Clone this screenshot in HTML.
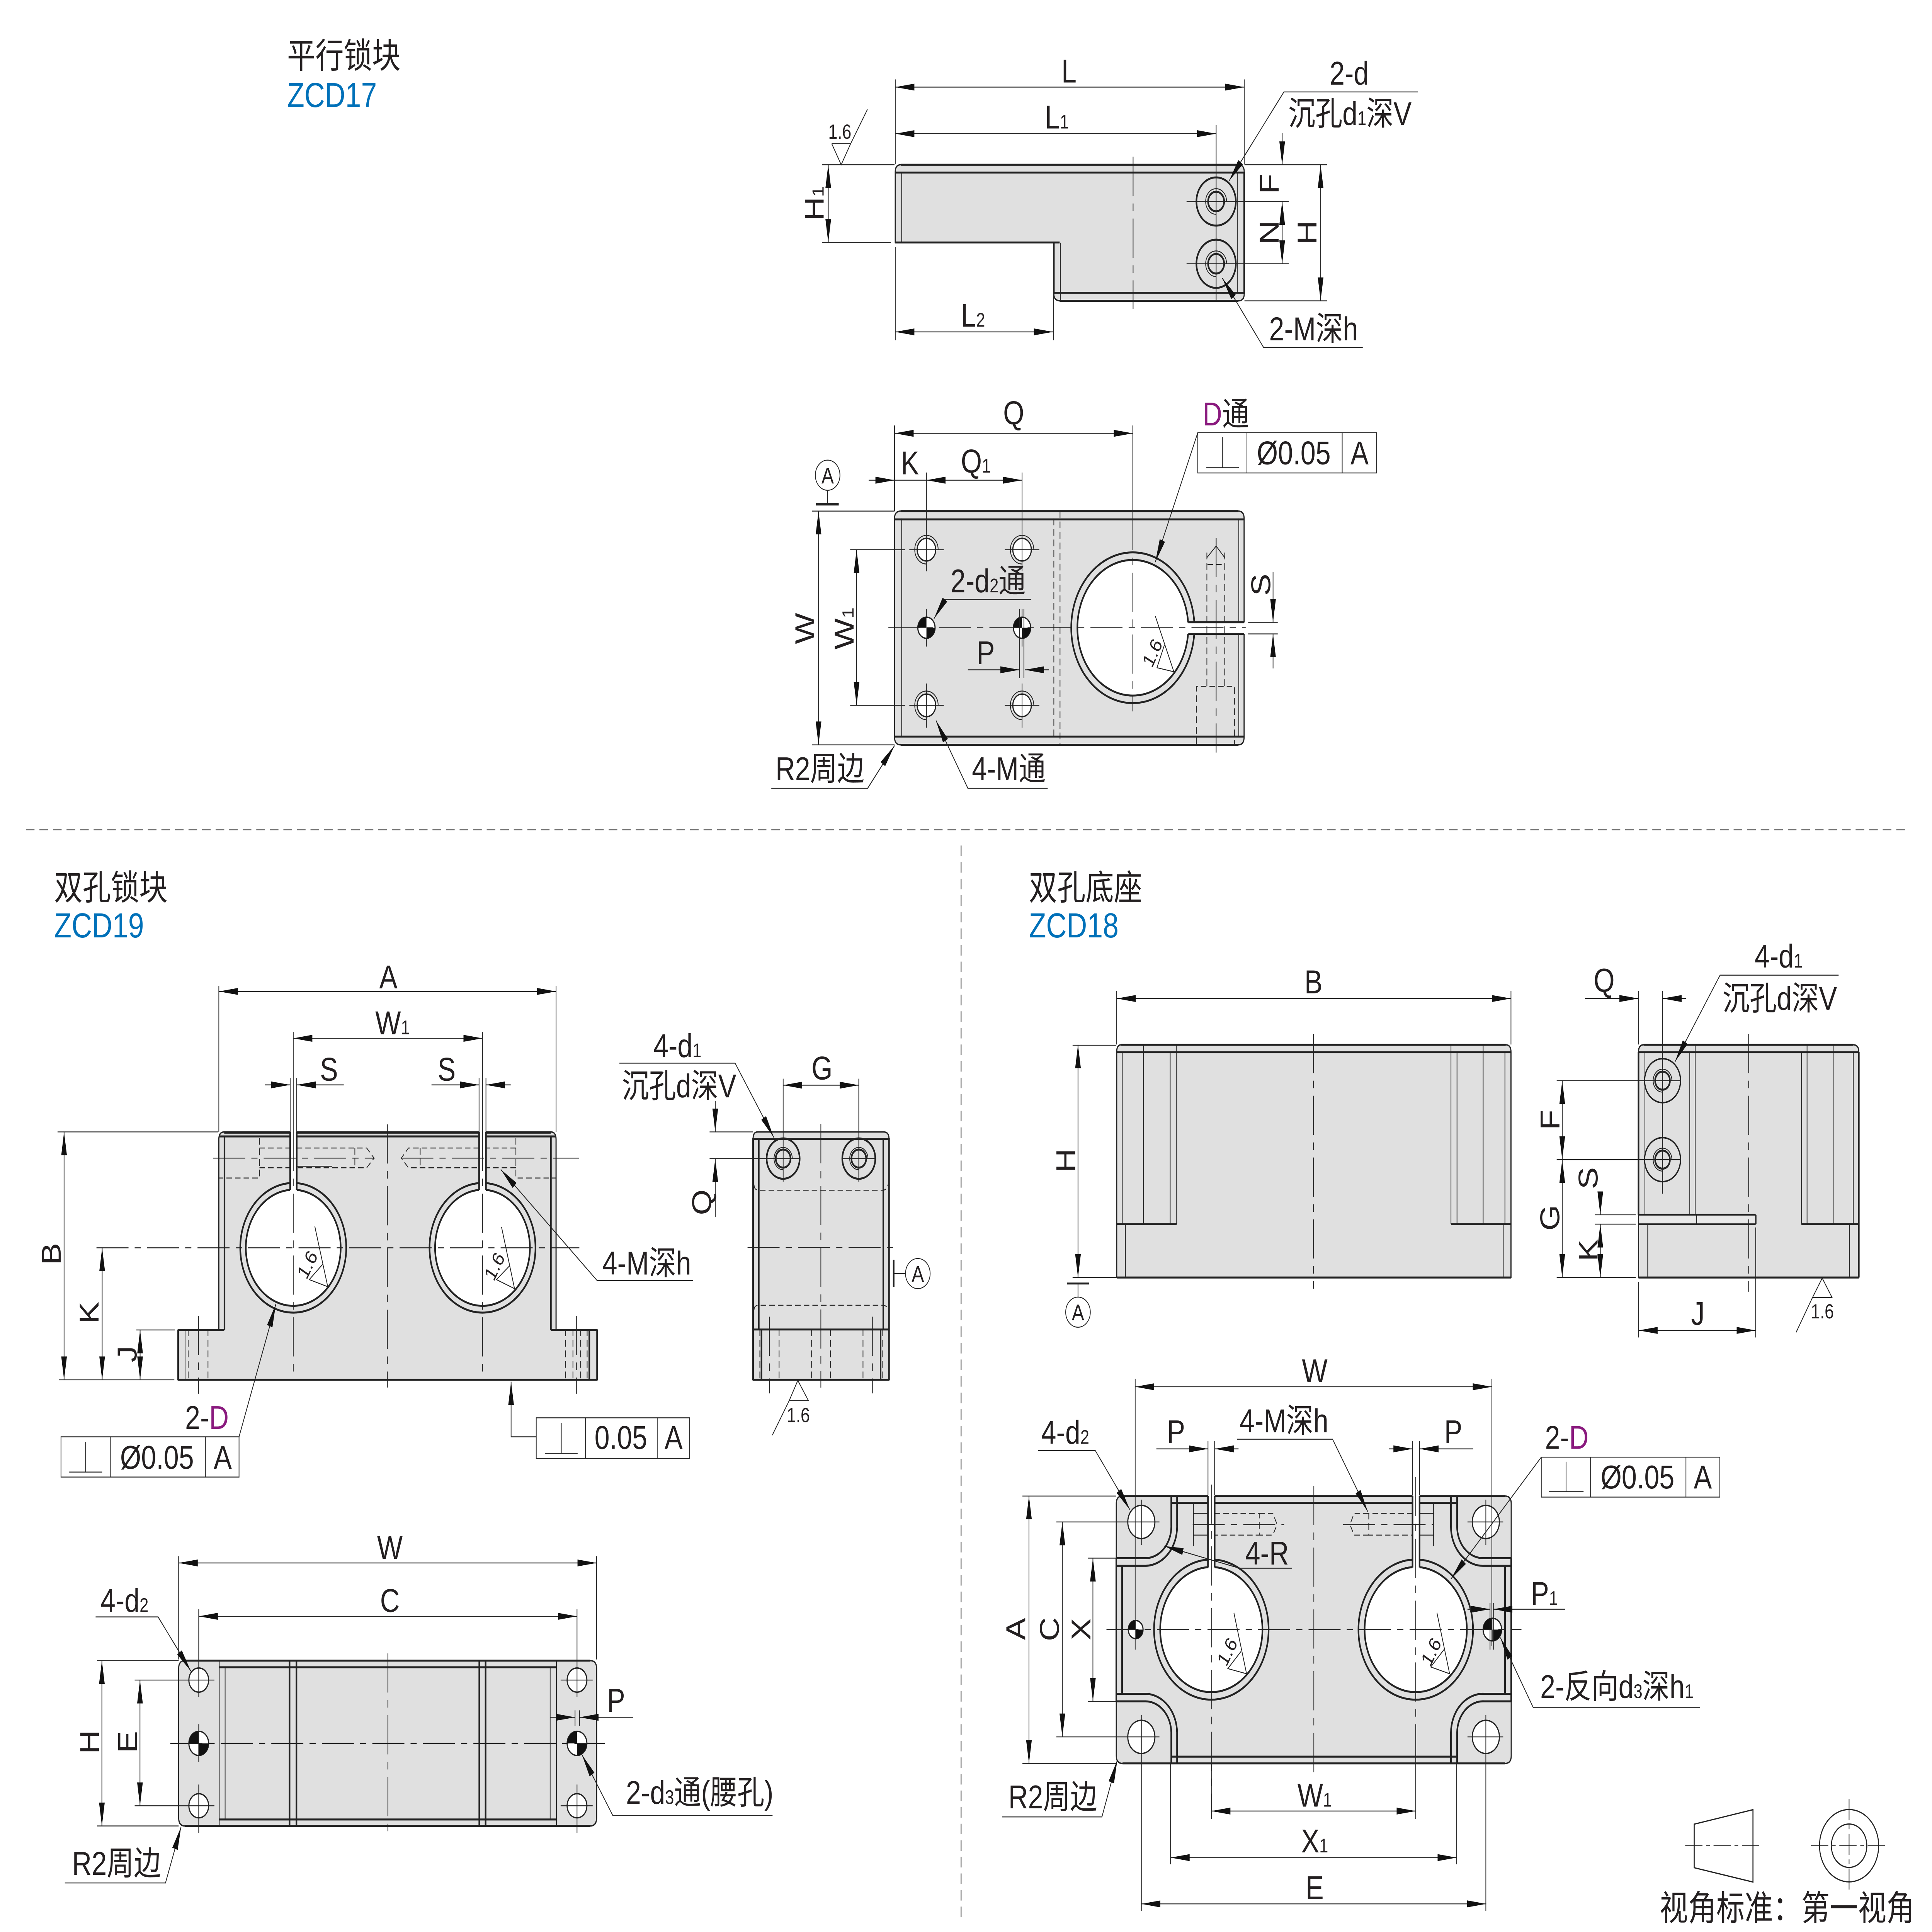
<!DOCTYPE html>
<html><head><meta charset="utf-8"><title>ZCD</title>
<style>
html,body{margin:0;padding:0;background:#fff;width:100%;height:100%;overflow:hidden}
svg{display:block;position:fixed;left:0;top:0;width:100vw;height:100vh;overflow:hidden;font-family:"Liberation Sans","Noto Sans CJK SC",sans-serif;font-size:22px;fill:#231f20}
.f{fill:#e0e0e0;stroke:#222;stroke-width:.9}
.t,.k,.d,.c,.a,.b,.s{fill:none;stroke:#222;stroke-width:.6}
.k{stroke-width:1.3}
.d{stroke-dasharray:4.5 2.5}
.c{stroke-dasharray:26 5 5 5}
.a{marker-end:url(#m)}
.b{marker-start:url(#m);marker-end:url(#m)}
.w{fill:#fff;stroke:#222;stroke-width:.9}
.wr{fill:#fff;stroke:#222;stroke-width:1.3}
.gr{fill:#e0e0e0;stroke:#222;stroke-width:1.3}
.bl{fill:#111;stroke:none}
.m{text-anchor:middle}
.z{fill:#0071b9;font-size:23px}
.h{font-size:23px}
.p{fill:#8a1a7e}
.u{font-size:13px}
.x{font-size:13.5px}
.q{font-size:15px}
</style></head><body>
<svg xmlns="http://www.w3.org/2000/svg" viewBox="0 0 1568 1281.85" preserveAspectRatio="none">
<defs><marker id="m" markerUnits="userSpaceOnUse" markerWidth="16" markerHeight="6" refX="15.5" refY="3" orient="auto-start-reverse" viewBox="0 0 16 6"><path d="M0 .7L15.5 3L0 5.3z" fill="#111"/></marker></defs>

<!-- titles -->
<text x="233" y="45" class="h">平行锁块</text><text x="233" y="71" class="z">ZCD17</text>
<text x="44" y="597" class="h">双孔锁块</text><text x="44" y="622" class="z">ZCD19</text>
<text x="835" y="597" class="h">双孔底座</text><text x="835" y="622" class="z">ZCD18</text>
<path d="M21,550.5H1548M780,561V1275" fill="none" stroke="#777" stroke-width=".8" stroke-dasharray="7 4"/>

<!-- VIEW 1 -->
<path class="f" d="M731,109.3H1005Q1009.8,109.3 1009.8,114V195Q1009.8,199.6 1005,199.6H860.6Q855.3,199.6 855.3,195V160.9H726.6V114Q726.6,109.3 731,109.3Z"/>
<path class="k" d="M731,109.3H1005M726.6,114.5H1009.8M726.6,160.9H860M855.3,194.2H1009.8M860,199.6H1005M1009.8,114V195M855.3,161V195"/>
<path class="t" d="M731.8,114V161M1004.5,114V194M860.6,161V199"/>
<path class="c" d="M919.6,104V205"/>
<circle class="k" cx="987" cy="133.7" r="16"/><circle class="k" cx="987" cy="133.7" r="6.5"/><path class="t" d="M995.5,133.7A8.5,8.5 0 1 0 987,142.2"/>
<circle class="k" cx="987" cy="175" r="16"/><circle class="k" cx="987" cy="175" r="6.5"/><path class="t" d="M995.5,175A8.5,8.5 0 1 0 987,183.5"/>
<path class="t" d="M987,83V199.6M963,133.7H1046M963,175H1046M726.6,52.7V109M1009.8,52.7V109M726.6,164V225.7M855,164V225.7M667,109.3H726M1010,109.3H1077M667,160.9H723M1010,199.6H1077M675,95.3H690.4L682.7,109.3L675,95.3M690.4,95.3L704,72.6"/>
<path class="b" d="M726.6,57.8H1009.8"/><path class="b" d="M726.6,88.7H987"/><path class="b" d="M726.6,220.2H854.6"/>
<path class="b" d="M672.2,109.3V160.9"/><path class="a" d="M1040.6,88.4V109.3"/><path class="b" d="M1040.6,133.7V175"/><path class="b" d="M1071.8,109.3V199.6"/>
<path class="a" d="M1150.8,61H1042L997.5,120"/><path class="a" d="M1106,230.5H1025.5L992,184.5"/>
<text x="867.6" y="54.8" class="m">L</text><text x="848" y="85.3">L<tspan class="u">1</tspan></text><text x="780" y="216.8">L<tspan class="u">2</tspan></text>
<text x="681.6" y="92" class="m x">1.6</text>
<text x="1095" y="56.2" class="m">2-d</text><text x="1045.5" y="83">沉孔d<tspan class="u">1</tspan>深V</text><text x="1030" y="225.7">2-M深h</text>
<text transform="translate(660.6,135) rotate(-90)" y="7.9" class="m">H<tspan class="u">1</tspan></text>
<text transform="translate(1029.8,122) rotate(-90)" y="7.9" class="m">F</text>
<text transform="translate(1029.8,154.3) rotate(-90)" y="7.9" class="m">N</text>
<text transform="translate(1060.6,154.3) rotate(-90)" y="7.9" class="m">H</text>

<!-- VIEW 2 -->
<path class="f" d="M731,339.1H1005Q1009.7,339.1 1009.7,344V412.9H964V420.6H1009.7V489Q1009.7,494.2 1005,494.2H731Q726,494.2 726,489V344Q726,339.1 731,339.1Z"/>
<path class="k" d="M731,339.1H1005M726,344.6H1009.7M726,488.7H1009.7M731,494.2H1005"/>
<path class="t" d="M731.8,344V489M1005.4,344V413M1005.4,421V489"/>
<path class="d" d="M855.3,344V489M860.3,339V494"/>
<circle class="gr" cx="919.4" cy="416.5" r="50"/><circle class="wr" cx="919.4" cy="416.5" r="45"/>
<rect x="962" y="413" width="50" height="7.6" fill="#fff"/>
<path class="k" d="M964.4,412.9H1009.7M964.4,420.6H1009.7"/>
<path class="d" d="M979.5,366.6V455.4M994,366.6V455.4M980,374.5H993M971,493.8V455.4H1002V493.8"/>
<path class="t" d="M979.5,370L987,362.3L994,370M987,357V362"/>
<path class="c" d="M987,357V499.3"/>
<circle class="w" cx="751.9" cy="364.7" r="7.5"/><path class="t" d="M761.4,364.7A9.5,9.5 0 1 0 751.9,374.2"/>
<circle class="w" cx="829.5" cy="364.7" r="7.5"/><path class="t" d="M839,364.7A9.5,9.5 0 1 0 829.5,374.2"/>
<circle class="w" cx="751.9" cy="468" r="7.5"/><path class="t" d="M761.4,468A9.5,9.5 0 1 0 751.9,477.5"/>
<circle class="w" cx="829.5" cy="468" r="7.5"/><path class="t" d="M839,468A9.5,9.5 0 1 0 829.5,477.5"/>
<path class="t" d="M738,364.7H766M815.5,364.7H843.5M738,468H766M815.5,468H843.5M751.9,313.5V379M829.5,313.5V379M751.9,453.5V482.8M829.5,453.5V482.8M751.9,404V429M829.5,404V429"/>
<circle class="w" cx="751.9" cy="416.5" r="7"/><path class="bl" d="M751.9,416.5V409.5A7,7 0 0 0 744.9,416.5ZM751.9,416.5V423.5A7,7 0 0 0 758.9,416.5Z"/>
<circle class="w" cx="829.5" cy="416.5" r="7"/><path class="bl" d="M829.5,416.5V409.5A7,7 0 0 0 822.5,416.5ZM829.5,416.5V423.5A7,7 0 0 0 836.5,416.5Z"/>
<path class="c" d="M721,416.5H1011"/>
<path class="t" d="M726,282.3V339M919.4,282.3V339M659,339.1H726M659,494.2H726M690,364.7H734.5M690,468H734.5M1013,412.9H1037M1013,420.6H1037M827.4,404V449.9M831,404V449.9"/>
<path class="c" d="M919.4,339V472"/>
<path class="b" d="M726,287.5H919.4"/>
<path class="a" d="M705,318.6H726"/><path class="t" d="M726,318.6H751.9"/><path class="b" d="M751.9,318.6H829.5"/>
<path class="b" d="M664.3,339.1V494.2"/><path class="b" d="M695.2,364.7V468"/>
<path class="a" d="M785.5,444.4H827.4"/><path class="a" d="M851.3,444.4H831.8"/>
<path class="a" d="M1033.2,379.4V412.9"/><path class="a" d="M1033.2,443.5V420.6"/>
<circle class="s" cx="671.7" cy="315.3" r="10"/><path class="t" d="M671.7,325.3V334.5"/><path class="k" d="M662.3,334.5H680.7" style="stroke-width:1.8"/>
<text x="671.7" y="320.8" class="m q">A</text>
<rect class="s" x="972.1" y="287.1" width="145.1" height="26.7"/><path class="t" d="M1012,287.1V313.8M1089.3,287.1V313.8M979,310.3H1005.4M992.3,290V310.3"/>
<text x="1050" y="308" class="m">Ø0.05</text><text x="1103.4" y="308" class="m">A</text>
<text x="976" y="282.3"><tspan class="p">D</tspan>通</text>
<path class="a" d="M972.1,287.1L937.6,373"/>
<path class="a" d="M836.8,397.7H767L758,410.5"/>
<path class="a" d="M626,523H704.2L726,494.7"/><path class="a" d="M850.3,523H785.5L759.6,478"/>
<path class="t" d="M937.6,408.7L952.7,445.7L939,443L945,428"/>
<text transform="translate(935,433) rotate(-62)" y="5" class="m x">1.6</text>
<text x="822.7" y="281.5" class="m">Q</text><text x="738.5" y="314.7" class="m">K</text><text x="779.8" y="313.5">Q<tspan class="u">1</tspan></text>
<text x="771.4" y="393">2-d<tspan class="u">2</tspan>通</text><text x="800" y="440.7" class="m">P</text>
<text x="629.4" y="517.6">R2周边</text><text x="788.8" y="517.6">4-M通</text>
<text transform="translate(652.9,417) rotate(-90)" y="7.9" class="m">W</text>
<text transform="translate(684.8,417) rotate(-90)" y="7.9" class="m">W<tspan class="u">1</tspan></text>
<text transform="translate(1023,388) rotate(-90)" y="7.9" class="m">S</text>

<!-- VIEW 3 -->
<path class="f" d="M182,751H447Q451.3,751 451.3,756V882.4H484.6V915.5H144.6V882.4H177.6V756Q177.6,751 182,751Z"/>
<path class="k" d="M182,751.5H447M177.6,754H451.3M144.6,915.5H484.6M144.6,882.4H182M447,882.4H484.6M182.2,754V882.4M447.1,754V882.4M484.6,882.4V915.5M144.6,882.4V915.5M478.3,882.4V915.5"/>
<path class="t" d="M177.6,756V882M451.3,756V882M150.2,882.4V915.5"/>
<circle class="gr" cx="238" cy="827.9" r="43"/><circle class="wr" cx="238" cy="827.9" r="38.5"/>
<circle class="gr" cx="391.6" cy="827.9" r="43"/><circle class="wr" cx="391.6" cy="827.9" r="38.5"/>
<rect x="235.5" y="749" width="5.3" height="42" fill="#fff"/><rect x="388.8" y="749" width="5.6" height="42" fill="#fff"/>
<path class="k" d="M235.5,751V789.6M240.8,751V789.6M388.8,751V789.6M394.4,751V789.6"/>
<path class="d" d="M210.6,755V781.6H178M240.8,761.7H297.6L303.6,768.4L297.6,774.8H240.8M210.6,761.7H235M210.6,774.8H235M288,761.7V774.8M418.7,755V781.6H451M388.8,761.7H331.5L325.7,768.4L331.5,774.8H388.8M418.7,761.7H394M418.7,774.8H394M341,761.7V774.8M152.7,882V915M168.8,882V915M459,882V915M465,882V915M471,882V915M476.5,882V915"/>
<path class="t" d="M240.8,773.8H269.5"/>
<path class="c" d="M173,768.4H304M325.7,768.4H470"/>
<path class="c" d="M314.4,746V920.6"/>
<path class="c" d="M78.3,827.9H470.2"/>
<path class="c" d="M238,751V915.5M391.6,751V915.5"/>
<path class="c" d="M161.1,873V924.7M467.8,873V924.7"/>
<path class="t" d="M177.6,654V751M451.3,654V751M238,684.8V751M391.6,684.8V751M235.5,715.3V751M240.8,715.3V751M388.8,715.3V751M394.4,715.3V751M46.7,751H177M47.8,915.5H141.5M110.6,882.4H142"/>
<path class="b" d="M177.6,657.8H451.3"/><path class="b" d="M238,688.9H391.6"/>
<path class="a" d="M215.1,719.8H235.5"/><path class="a" d="M279,719.8H240.8"/><path class="a" d="M350.2,719.8H388.8"/><path class="a" d="M414.5,719.8H394.4"/>
<path class="b" d="M52,751V915.5"/><path class="b" d="M82.9,827.9V915.5"/><path class="b" d="M113.7,882.4V915.5"/>
<path class="t" d="M255.5,813.7L266,853.7L251,849L261.8,838.9M407,814L417.6,855L402.9,849L413.4,840"/>
<text transform="translate(249.2,838.9) rotate(-60)" y="5" class="m x">1.6</text>
<text transform="translate(401.1,840) rotate(-60)" y="5" class="m x">1.6</text>
<path class="a" d="M562.5,849.6H484.6L406.4,775.9"/>
<rect class="s" x="49.5" y="953.3" width="144.5" height="26.7"/><path class="t" d="M89.5,953.3V980M166.7,953.3V980M56.2,976.7H82.9M69.5,956.8V976.7"/>
<text x="127.4" y="974.4" class="m">Ø0.05</text><text x="180.8" y="974.4" class="m">A</text>
<path class="a" d="M194,953.3L223.9,865.2"/>
<text x="150.2" y="948">2-<tspan class="p">D</tspan></text>
<rect class="s" x="435.2" y="940.7" width="124.5" height="27"/><path class="t" d="M475.2,940.7V967.7M533.4,940.7V967.7M442.2,964.3H468.8M455.5,944V964.3"/>
<text x="503.9" y="961.3" class="m">0.05</text><text x="546.7" y="961.3" class="m">A</text>
<path class="a" d="M435.2,953.3H414.8V916.7"/>
<text x="315.2" y="655.7" class="m">A</text><text x="304.6" y="686.2">W<tspan class="u">1</tspan></text>
<text x="267" y="716.9" class="m">S</text><text x="362.5" y="716.9" class="m">S</text><text x="488.8" y="845.7">4-M深h</text>
<text transform="translate(41.4,832) rotate(-90)" y="7.9" class="m">B</text>
<text transform="translate(72,871) rotate(-90)" y="7.9" class="m">K</text>
<text transform="translate(102.9,898.4) rotate(-90)" y="7.9" class="m">J</text>

<!-- VIEW 4 -->
<path class="f" d="M615,751H717Q721.5,751 721.5,755.5V915.5H611.2V755.5Q611.2,751 615,751Z"/>
<path class="k" d="M611.2,755.7H721.5M611.2,882.1H721.5M611.2,915.5H721.5M611.2,755V915.5M721.5,755V915.5M615.8,755.7V882M716.9,755.7V882M618,882V915.5M714.7,882V915.5"/>
<path class="d" d="M612,786Q612,789.7 616,789.7H716Q720.2,789.7 720.2,786M612,869Q612,866 616,866H716Q720.2,866 720.2,869M616.7,882V915M716,882V915M632.3,882V915M658.5,882V915M674,882V915M700.4,882V915"/>
<circle class="k" cx="635.6" cy="768.7" r="13.4"/><circle class="k" cx="635.6" cy="768.7" r="6"/><path class="t" d="M643,768.7A7.4,7.4 0 1 0 635.6,776.1"/>
<circle class="k" cx="697" cy="768.7" r="13.4"/><circle class="k" cx="697" cy="768.7" r="6"/><path class="t" d="M704.4,768.7A7.4,7.4 0 1 0 697,776.1"/>
<path class="c" d="M666.2,745.8V920.7"/><path class="c" d="M606.7,827.8H725.7"/>
<path class="c" d="M624.4,873.6V924.5M708,873.6V924.5"/>
<path class="t" d="M635.6,715.7V784M697,715.7V784M575.9,751H611M575.9,768.7H649M684,768.7H711"/>
<path class="b" d="M635.6,720H697"/><path class="a" d="M580.5,730.5V751"/><path class="a" d="M580.5,807.6V768.7"/>
<path class="a" d="M502.7,705.4H596.6L628.1,754.8"/>
<path class="t" d="M725.3,845H734.8"/><path class="k" d="M725.3,835.8V853.9"/><circle class="s" cx="744.9" cy="845" r="10"/><text x="744.9" y="850.5" class="m q">A</text>
<path class="t" d="M647.5,915.9L656.1,929.3H640.5L647.5,915.9M640.5,929.3L626.8,952.2"/>
<text x="647.9" y="943.6" class="m x">1.6</text>
<text x="530.3" y="701.4">4-d<tspan class="u">1</tspan></text><text x="504.7" y="728.1">沉孔d深V</text>
<text x="667.1" y="716.2" class="m">G</text>
<text transform="translate(569.1,797.7) rotate(-90)" y="7.9" class="m">Q</text>

<!-- VIEW 5 -->
<path class="f" d="M150,1101.8H479Q484.2,1101.8 484.2,1107V1206Q484.2,1211.5 479,1211.5H150Q145,1211.5 145,1206V1107Q145,1101.8 150,1101.8Z"/>
<path class="k" d="M150,1101.8H479M150,1211.5H479M178,1106.2H451.6M178,1207.2H451.6M235,1102V1211M240.6,1102V1211M389,1102V1211M394.1,1102V1211"/>
<path class="t" d="M177.9,1102V1211M182.7,1106V1207M446.5,1106V1207M451.6,1102V1211"/>
<circle class="w" cx="161.3" cy="1114.7" r="8"/><circle class="w" cx="468.3" cy="1114.7" r="8"/><circle class="w" cx="161.3" cy="1198.1" r="8"/><circle class="w" cx="468.3" cy="1198.1" r="8"/>
<circle class="w" cx="161.3" cy="1156.7" r="8"/><path class="bl" d="M161.3,1156.7V1148.7A8,8 0 0 0 153.3,1156.7ZM161.3,1156.7V1164.7A8,8 0 0 0 169.3,1156.7Z"/>
<circle class="w" cx="468.3" cy="1156.7" r="8"/><path class="bl" d="M468.3,1156.7V1148.7A8,8 0 0 0 460.3,1156.7ZM468.3,1156.7V1164.7A8,8 0 0 0 476.3,1156.7Z"/>
<path class="t" d="M150,1114.7H174M455,1114.7H481M150,1198.1H174M455,1198.1H481M161.3,1067.7V1126M468.3,1067.7V1126M161.3,1184V1216M468.3,1184V1216M161.3,1144V1169M466.7,1134.8V1145M470.3,1134.8V1145M145,1032.5V1101M484.2,1032.5V1101M78.7,1101.8H145M78.7,1211.5H145M109.3,1114.7H150M109.3,1198.1H150"/>
<path class="c" d="M314.8,1097V1215.9"/><path class="c" d="M138.2,1156.7H490.9"/>
<path class="b" d="M145,1037H484.2"/><path class="b" d="M161.3,1072.4H468.3"/><path class="b" d="M82.7,1101.8V1211.5"/><path class="b" d="M113.6,1114.7V1198.1"/>
<path class="a" d="M446.5,1139.4H466.7"/><path class="a" d="M513.9,1139.4H470.3"/>
<path class="a" d="M77.6,1072.8H128.3L154.9,1108.8"/><path class="a" d="M52.6,1249.3H134.3L147,1212"/><path class="a" d="M627,1204.5H497.3L472.3,1164.2"/>
<text x="316.4" y="1034.2" class="m">W</text><text x="316.4" y="1069.4" class="m">C</text><text x="500" y="1135.7" class="m">P</text>
<text x="81.5" y="1069.4">4-d<tspan class="u">2</tspan></text><text x="58.5" y="1243.9">R2周边</text><text x="508" y="1196.9">2-d<tspan class="u">3</tspan>通(腰孔)</text>
<text transform="translate(72.4,1155.8) rotate(-90)" y="7.9" class="m">H</text>
<text transform="translate(103.3,1155.8) rotate(-90)" y="7.9" class="m">E</text>

<!-- VIEW 6 left -->
<path class="f" d="M910,693.2H1222Q1226.3,693.2 1226.3,698V847.6H906.3V698Q906.3,693.2 910,693.2Z"/>
<path class="k" d="M910,693.2H1222M906.3,698.1H1226.3M906.3,847.6H1226.3M906.3,812.2H955M1177.6,812.2H1226.3"/>
<path class="t" d="M910.8,698V812M928,693V812M949.7,698V812M955,693V812M1177.6,693V812M1182.5,698V812M1203.7,693V812M1221.4,698V812M913.4,812V847M1220,812V847"/>
<path class="c" d="M1066,686V855"/>
<path class="t" d="M906.3,657.5V693M1226.3,657.5V693M870.5,693.5H906M870.5,847.6H906"/>
<path class="b" d="M906.3,662.5H1226.3"/><path class="b" d="M874.9,693.2V847.6"/>
<path class="k" d="M866,851.6H883.8"/><path class="t" d="M874.9,851.6V860.5"/><circle class="s" cx="874.9" cy="870.6" r="10"/><text x="874.9" y="876" class="m q">A</text>
<text x="1066" y="659" class="m">B</text>
<text transform="translate(864.7,770) rotate(-90)" y="7.9" class="m">H</text>

<!-- VIEW 6 right -->
<path class="f" d="M1334,693.2H1504Q1508.6,693.2 1508.6,698V847.6H1329.8V698Q1329.8,693.2 1334,693.2Z"/>
<path class="k" d="M1334,693.2H1504M1329.8,698.1H1508.6M1329.8,847.6H1508.6M1329.8,806H1424.9M1329.8,812.2H1424.9M1424.9,806V812.2M1462,812.2H1508.6M1508.6,698V847.6M1329.8,698V806"/>
<path class="t" d="M1335,698V806M1371.4,698V806M1375.8,693V806M1462.1,698V812M1466.6,693V812M1487.8,693V812M1504.1,698V812M1377,806V812M1337.3,812V847M1501,812V847M1329.8,812V847"/>
<rect x="1330" y="806.5" width="94.5" height="5.2" fill="#e9e9e9"/>
<path class="t" d="M1377,806V812"/>
<circle class="t" cx="1349.3" cy="717" r="14.6" style="stroke-width:1"/><circle class="k" cx="1349.3" cy="717" r="6"/><path class="t" d="M1356.9,717A7.6,7.6 0 1 0 1349.3,724.6"/>
<circle class="t" cx="1349.3" cy="769.4" r="14.6" style="stroke-width:1"/><circle class="k" cx="1349.3" cy="769.4" r="6"/><path class="t" d="M1356.9,769.4A7.6,7.6 0 1 0 1349.3,777"/>
<path class="k" d="M1349.3,693V702M1349.3,732V754M1349.3,784V792" style="stroke-width:.9"/>
<path class="c" d="M1419.2,686V857"/>
<path class="t" d="M1329.8,657.5V693M1349.3,657.5V732M1263.4,717H1364M1263.4,769.4H1364M1263.4,847.6H1327.6M1294.4,806H1327.6M1294.4,812.2H1327.6M1329.8,850.5V887.4M1424.9,814.4V887.4M1349.3,754V784"/>
<path class="a" d="M1286.4,662.5H1329.8"/><path class="a" d="M1368.3,662.5H1349.3"/>
<path class="a" d="M1492.2,647H1396L1359.4,704.5"/>
<path class="b" d="M1267.9,717V769.4"/><path class="b" d="M1267.9,769.4V847.6"/>
<path class="a" d="M1298.8,790.9V806"/><path class="b" d="M1298.8,812.2V847.6"/>
<path class="b" d="M1329.8,882.7H1424.9"/>
<path class="t" d="M1478.9,848L1486.9,860.9H1471L1478.9,848M1471,860.9L1457.7,884"/>
<text x="1479" y="874.8" class="m x">1.6</text>
<text x="1301.9" y="658" class="m">Q</text><text x="1424" y="642">4-d<tspan class="u">1</tspan></text><text x="1398" y="670">沉孔d深V</text><text x="1378" y="879" class="m">J</text>
<text transform="translate(1257.7,743) rotate(-90)" y="7.9" class="m">F</text>
<text transform="translate(1257.7,808) rotate(-90)" y="7.9" class="m">G</text>
<text transform="translate(1288.7,781.7) rotate(-90)" y="7.9" class="m">S</text>
<text transform="translate(1288.7,829.5) rotate(-90)" y="7.9" class="m">K</text>

<!-- VIEW 7 -->
<path class="f" d="M911,992.6H1221.5Q1226.5,992.6 1226.5,997.6V1165Q1226.5,1170 1221.5,1170H911Q906,1170 906,1165V997.6Q906,992.6 911,992.6Z"/>
<path class="k" d="M911,992.6H1221.5M911,1170H1221.5M950.6,997.2H1182.6M950.6,1165.5H1182.6"/>
<path class="k" d="M950.6,992.6V1012A21,21 0 0 1 929.7,1033.8H906M955.3,992.6V1012A26,26 0 0 1 929.7,1038.9H906"/>
<path class="k" d="M950.6,1170V1149.4A21,21 0 0 0 929.7,1128.8H906M955.3,1170V1149.4A26,26 0 0 0 929.7,1123.8H906"/>
<path class="k" d="M1182.6,992.6V1012A21,21 0 0 0 1204.3,1033.8H1226.5M1177.6,992.6V1012A26,26 0 0 0 1204.3,1038.9H1226.5"/>
<path class="k" d="M1182.6,1170V1149.4A21,21 0 0 1 1204.3,1128.8H1226.5M1177.6,1170V1149.4A26,26 0 0 1 1204.3,1123.8H1226.5"/>
<path class="k" d="M910.7,1038.9V1123.8M1221.5,1038.9V1123.8M906,1034V1129M1226.5,1034V1129"/>
<circle class="gr" cx="983.1" cy="1081.2" r="46.5"/><circle class="wr" cx="983.1" cy="1081.2" r="41.5"/>
<circle class="gr" cx="1149" cy="1081.2" r="46.5"/><circle class="wr" cx="1149" cy="1081.2" r="41.5"/>
<rect x="980.4" y="990" width="5.4" height="52" fill="#fff"/><rect x="1146.4" y="990" width="5.7" height="52" fill="#fff"/>
<path class="k" d="M980.4,992.6V1040M985.8,992.6V1040M1146.4,992.6V1040M1152.1,992.6V1040"/>
<path class="d" d="M985.8,1004.1H1022V1018.5H985.8M1022,1004.1L1033,1004.1L1036.5,1011.5L1033,1018.5H1022M1146.4,1004.1H1110.9V1018.5H1146.4M1110.9,1004.1H1099L1095.6,1011.5L1099,1018.5H1110.9"/>
<path class="t" d="M968.6,997.2V1025.8M968.6,1004.1H980M968.6,1018.5H980M1163.5,997.2V1025.8M1152,1004.1H1163.5M1152,1018.5H1163.5"/>
<path class="c" d="M968,1011.5H1042.2M1090,1011.5H1163"/>
<circle class="w" cx="926.3" cy="1009.8" r="11"/><circle class="w" cx="1205.9" cy="1009.8" r="11"/><circle class="w" cx="926.3" cy="1152.4" r="11"/><circle class="w" cx="1205.9" cy="1152.4" r="11"/>
<path class="t" d="M912,1009.8H941M1191,1009.8H1220M912,1152.4H941M1191,1152.4H1220M926.3,995V1025M1205.9,995V1025M926.3,1138V1268M1205.9,1138V1268"/>
<circle class="w" cx="921.7" cy="1081.2" r="6"/><path class="bl" d="M921.7,1081.2V1075.2A6,6 0 0 0 915.7,1081.2ZM921.7,1081.2V1087.2A6,6 0 0 0 927.7,1081.2Z"/>
<circle class="w" cx="1211.2" cy="1081.2" r="7.5"/><path class="bl" d="M1211.2,1081.2V1073.7A7.5,7.5 0 0 0 1203.7,1081.2ZM1211.2,1081.2V1088.7A7.5,7.5 0 0 0 1218.7,1081.2Z"/>
<path class="c" d="M1066.3,985.8V1179.2"/><path class="c" d="M898,1081.2H1234.8"/>
<path class="c" d="M983.1,985V1206.7M1149,980V1206.7"/>
<path class="t" d="M921.3,914.8V1094.5M1210.8,914.8V1092M980.4,956V992M985.8,956V992M1146.4,956V992M1152.1,956V992M829.8,992.6H906M829.8,1170H906M857.3,1009.8H912M857.3,1152.4H912M882.8,1033.8H906M882.8,1128.8H906M950,1170V1236.9M1182.2,1170V1236.9M1209.3,1063.6V1094.5M1212,1063.6V1094.5M983.1,1170V1206.7M1149,1170V1206.7"/>
<path class="b" d="M921.3,920.1H1210.8"/>
<path class="a" d="M938.5,961.3H980.4"/><path class="a" d="M1005.2,961.3H985.8"/><path class="a" d="M1127.3,961.3H1146.4"/><path class="a" d="M1195.6,961.3H1152.1"/>
<path class="b" d="M835.1,992.6V1170"/><path class="b" d="M862.2,1009.8V1152.4"/><path class="b" d="M887,1033.8V1128.8"/>
<path class="b" d="M983.1,1201.6H1149"/><path class="b" d="M950,1232.5H1182.2"/><path class="b" d="M926.3,1263.2H1206.2"/>
<path class="a" d="M1191,1067.7H1209.3"/><path class="a" d="M1270.3,1067.7H1212"/>
<path class="a" d="M1004,954.9H1081.5L1110.1,1003"/><path class="a" d="M842.4,962.4H888.9L917.1,1001.8"/>
<path class="a" d="M1048.7,1040.5H1006L945,1025.8"/><path class="a" d="M1379.8,1133H1244.4L1217.7,1086.5"/>
<path class="a" d="M813.4,1205.5H894.3L906.8,1167.8"/>
<rect class="s" x="1250.9" y="966.8" width="144.9" height="26.5"/><path class="t" d="M1290.9,966.8V993.3M1368.3,966.8V993.3M1257,989.7H1285.2M1271,969.8V989.7"/>
<text x="1329" y="987.6" class="m">Ø0.05</text><text x="1382" y="987.6" class="m">A</text>
<path class="a" d="M1250.9,966.8L1177.6,1047.6"/>
<path class="t" d="M1001.4,1070L1011.7,1110.5L996.5,1107.1L1007.2,1095.7M1166.2,1070L1176.5,1110.5L1161.2,1106L1171.9,1094.5"/>
<text transform="translate(995.7,1095.7) rotate(-60)" y="5" class="m x">1.6</text>
<text transform="translate(1161.2,1095.7) rotate(-60)" y="5" class="m x">1.6</text>
<text x="1067" y="917" class="m">W</text><text x="954.5" y="957.6" class="m">P</text><text x="1179.5" y="957.6" class="m">P</text>
<text x="1006" y="950.3">4-M深h</text><text x="845" y="957.9">4-d<tspan class="u">2</tspan></text>
<text x="1253.9" y="961.3">2-<tspan class="p">D</tspan></text><text x="1010.6" y="1038">4-R</text>
<text x="1242.5" y="1064.8">P<tspan class="u">1</tspan></text><text x="1250" y="1126.6">2-反向d<tspan class="u">3</tspan>深h<tspan class="u">1</tspan></text>
<text x="818.4" y="1199.8">R2周边</text>
<text x="1067" y="1198.6" class="m">W<tspan class="u">1</tspan></text><text x="1067" y="1229.1" class="m">X<tspan class="u">1</tspan></text><text x="1067" y="1260" class="m">E</text>
<text transform="translate(824,1080.8) rotate(-90)" y="7.9" class="m">A</text>
<text transform="translate(851.5,1081) rotate(-90)" y="7.9" class="m">C</text>
<text transform="translate(877.1,1081) rotate(-90)" y="7.9" class="m">X</text>

<!-- VIEW 8 -->
<path class="t" d="M1375,1210.3L1422.7,1200.7V1248.7L1375,1239.2Z" style="stroke-width:.8"/>
<path class="c" d="M1367.7,1224.6H1430" style="stroke-dasharray:14 3 3 3"/>
<circle class="t" cx="1500.7" cy="1224.6" r="24" style="stroke-width:.8"/><circle class="t" cx="1500.7" cy="1224.6" r="14.4" style="stroke-width:.8"/>
<path class="c" d="M1469.8,1224.6H1531.6M1500.7,1193.7V1255.5" style="stroke-dasharray:14 3 3 3"/>
<text x="1347" y="1274" class="h">视角标准：第一视角</text>
</svg>
</body></html>
